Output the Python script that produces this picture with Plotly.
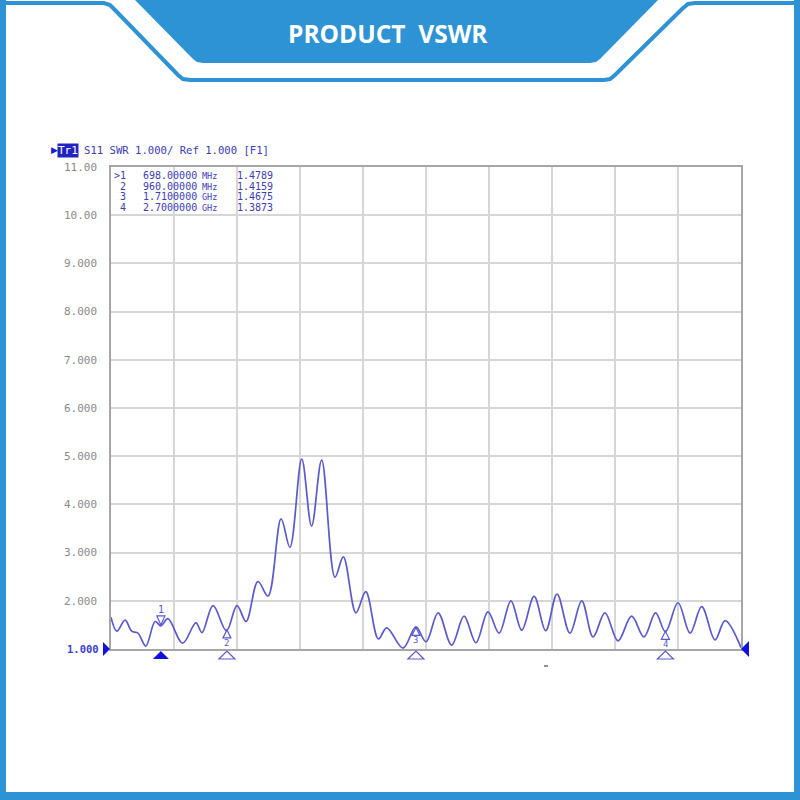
import plotly.graph_objects as go

# ---------------- data ----------------
freq_mhz = [500, 523, 556, 582, 607, 638, 675, 698, 726, 784, 837, 861, 905, 958,
            1000, 1036, 1083, 1123, 1175, 1210, 1257, 1296, 1336, 1389, 1422, 1472,
            1511, 1561, 1594, 1659, 1710, 1750, 1798, 1852, 1901, 1948, 1996, 2040,
            2087, 2130, 2179, 2225, 2270, 2321, 2368, 2413, 2460, 2512, 2566, 2615,
            2661, 2700, 2750, 2798, 2844, 2897, 2937, 3000]
vswr = [1.66, 1.37, 1.60, 1.37, 1.33, 1.06, 1.57, 1.48, 1.63, 1.12, 1.54, 1.34, 1.90, 1.38,
        1.90, 1.57, 2.40, 2.10, 3.70, 3.11, 4.94, 3.55, 4.92, 2.49, 2.91, 1.75,
        2.19, 1.21, 1.44, 1.02, 1.46, 1.15, 1.75, 1.08, 1.68, 1.13, 1.77, 1.33,
        2.00, 1.39, 2.09, 1.38, 2.14, 1.33, 2.00, 1.25, 1.75, 1.17, 1.68, 1.25,
        1.75, 1.36, 1.96, 1.33, 1.88, 1.19, 1.59, 1.03]

marker_ids = ["1", "2", "3", "4"]
marker_freq = [698, 960, 1710, 2700]
marker_vswr = [1.4789, 1.4159, 1.4675, 1.3873]
marker_freq_text = ["698.00000", "960.00000", "1.7100000", "2.7000000"]
marker_unit_text = ["MHz", "MHz", "GHz", "GHz"]
marker_row_prefix = [">1", "2", "3", "4"]

y_tick_vals = [2, 3, 4, 5, 6, 7, 8, 9, 10, 11]
y_tick_text = ["2.000", "3.000", "4.000", "5.000", "6.000", "7.000", "8.000", "9.000", "10.00", "11.00"]

x_start, x_stop, x_step = 500, 3000, 250
y_min, y_max = 1, 11

# ---------------- styles ----------------
W = H = 800
BLUE = "#2E93D5"
TRACE = "#5a5acd"
MTXT = "#3c3cb8"
MONO = "DejaVu Sans Mono"
PLOT_L, PLOT_R, PLOT_T, PLOT_B = 111, 741, 167, 649


def px(x):
    return x / W


def py(y):
    return 1 - y / H


def ppath(points, close=False):
    s = "M " + " L ".join(f"{px(x):.5f},{py(y):.5f}" for x, y in points)
    return s + (" Z" if close else "")


fig = go.Figure()
fig.add_trace(go.Scatter(
    x=freq_mhz, y=vswr, mode="lines",
    line=dict(color=TRACE, width=1.7, shape="spline", smoothing=1.0),
    hoverinfo="skip", showlegend=False))

shapes = []
annotations = []

# --- page border & banner ---
shapes.append(dict(type="line", xref="paper", yref="paper", x0=px(3), x1=px(3), y0=0, y1=1,
                   line=dict(color=BLUE, width=6)))
shapes.append(dict(type="line", xref="paper", yref="paper", x0=px(797), x1=px(797), y0=0, y1=1,
                   line=dict(color=BLUE, width=6)))
shapes.append(dict(type="line", xref="paper", yref="paper", x0=0, x1=1, y0=py(796), y1=py(796),
                   line=dict(color=BLUE, width=8)))
outline = [(0, 3), (104, 3), (110, 5), (115, 10), (178, 75), (183, 79), (190, 80),
           (604, 80), (610, 79), (615, 75), (682, 9), (688, 4), (695, 3), (800, 3)]
shapes.append(dict(type="path", xref="paper", yref="paper", path=ppath(outline),
                   line=dict(color=BLUE, width=4)))
banner = [(135, 0), (658, 0), (600, 59), (596, 62), (590, 63), (203, 63), (197, 62), (193, 59)]
shapes.append(dict(type="path", xref="paper", yref="paper", path=ppath(banner, True),
                   fillcolor=BLUE, line=dict(width=0)))
annotations.append(dict(xref="paper", yref="paper", x=px(388), y=py(33), text="<b>PRODUCT&nbsp; VSWR</b>",
                        showarrow=False, xanchor="center", yanchor="middle",
                        font=dict(family="Open Sans", size=24.5, color="white")))
# small stray mark visible in the reference
shapes.append(dict(type="line", xref="paper", yref="paper", x0=px(544), x1=px(548), y0=py(666), y1=py(666),
                   line=dict(color="#222222", width=1)))

# --- header line ---
annotations.append(dict(xref="paper", yref="paper", x=px(49), y=py(150), text="▶", showarrow=False,
                        xanchor="left", yanchor="middle", font=dict(family="DejaVu Sans", size=9, color="#1a1ad0")))
annotations.append(dict(xref="paper", yref="paper", x=px(57), y=py(150), text="Tr1", showarrow=False,
                        xanchor="left", yanchor="middle", bgcolor="#2222c0", borderpad=0,
                        font=dict(family=MONO, size=11, color="white")))
annotations.append(dict(xref="paper", yref="paper", x=px(82), y=py(150), text="S11 SWR 1.000/ Ref 1.000 [F1]",
                        showarrow=False, xanchor="left", yanchor="middle",
                        font=dict(family=MONO, size=10.6, color=MTXT)))

# --- marker table ---
row_y = [176, 186.5, 197, 207.5]
for i in range(4):
    yy = py(row_y[i])
    annotations.append(dict(xref="paper", yref="paper", x=px(127), y=yy, text=marker_row_prefix[i],
                            showarrow=False, xanchor="right", yanchor="middle", borderpad=0,
                            font=dict(family=MONO, size=10, color=MTXT)))
    annotations.append(dict(xref="paper", yref="paper", x=px(142), y=yy, text=marker_freq_text[i],
                            showarrow=False, xanchor="left", yanchor="middle", borderpad=0,
                            font=dict(family=MONO, size=10, color=MTXT)))
    annotations.append(dict(xref="paper", yref="paper", x=px(201), y=yy, text=marker_unit_text[i],
                            showarrow=False, xanchor="left", yanchor="middle", borderpad=0,
                            font=dict(family=MONO, size=8.5, color=MTXT)))
    annotations.append(dict(xref="paper", yref="paper", x=px(236), y=yy, text=f"{marker_vswr[i]:.4f}",
                            showarrow=False, xanchor="left", yanchor="middle", borderpad=0,
                            font=dict(family=MONO, size=10, color=MTXT)))

# --- "1.000" reference label & pointers ---
annotations.append(dict(xref="paper", yref="y", x=px(101), y=y_min, text="<b>1.000</b>", showarrow=False,
                        xanchor="right", yanchor="middle", font=dict(family=MONO, size=10.5, color="#4040d0")))
shapes.append(dict(type="path", xref="paper", yref="paper", xsizemode="pixel", ysizemode="pixel",
                   xanchor=px(PLOT_L), yanchor=py(PLOT_B), path="M -8,-7 L -8,7 L -1,0 Z",
                   fillcolor="#1010e0", line=dict(width=0)))
shapes.append(dict(type="path", xref="paper", yref="paper", xsizemode="pixel", ysizemode="pixel",
                   xanchor=px(PLOT_R), yanchor=py(PLOT_B), path="M 8,-8 L 8,8 L 0,0 Z",
                   fillcolor="#1010e0", line=dict(width=0)))

# --- markers on trace and on axis ---
for i, (mid, f, v) in enumerate(zip(marker_ids, marker_freq, marker_vswr)):
    if i == 0:
        shapes.append(dict(type="path", xref="x", yref="y", xsizemode="pixel", ysizemode="pixel",
                           xanchor=f, yanchor=v, path="M -4,10 L 4,10 L 0,1 Z",
                           line=dict(color=TRACE, width=1.2)))
        annotations.append(dict(xref="x", yref="y", x=f, y=v, yshift=16, text=mid, showarrow=False,
                                xanchor="center", yanchor="middle",
                                font=dict(family=MONO, size=10, color=TRACE)))
        shapes.append(dict(type="path", xref="x", yref="paper", xsizemode="pixel", ysizemode="pixel",
                           xanchor=f, yanchor=py(PLOT_B), path="M -8,-10 L 8,-10 L 0,-2 Z",
                           fillcolor="#1010e0", line=dict(width=0)))
    else:
        shapes.append(dict(type="path", xref="x", yref="y", xsizemode="pixel", ysizemode="pixel",
                           xanchor=f, yanchor=v, path="M -4,-9 L 4,-9 L 0,-1 Z",
                           line=dict(color=TRACE, width=1.2)))
        annotations.append(dict(xref="x", yref="y", x=f, y=v, yshift=-14, text=mid, showarrow=False,
                                xanchor="center", yanchor="middle",
                                font=dict(family=MONO, size=9, color=TRACE)))
        shapes.append(dict(type="path", xref="x", yref="paper", xsizemode="pixel", ysizemode="pixel",
                           xanchor=f, yanchor=py(PLOT_B), path="M -8,-10 L 8,-10 L 0,-2 Z",
                           line=dict(color=TRACE, width=1.2)))

fig.update_layout(
    width=W, height=H, margin=dict(l=0, r=0, t=0, b=0, autoexpand=False),
    paper_bgcolor="white", plot_bgcolor="white",
    showlegend=False, shapes=shapes, annotations=annotations,
    xaxis=dict(domain=[px(PLOT_L), px(PLOT_R)], range=[x_start, x_stop], tick0=x_start, dtick=x_step,
               showgrid=True, gridcolor="#d6d6d6", gridwidth=1.5, showticklabels=False, ticks="",
               showline=True, linecolor="#a6a6a6", linewidth=1.5, mirror=True, zeroline=False,
               automargin=False, fixedrange=True),
    yaxis=dict(domain=[py(PLOT_B), py(PLOT_T)], range=[y_min, y_max], tickvals=y_tick_vals,
               ticktext=y_tick_text, showgrid=True, gridcolor="#d6d6d6", gridwidth=1.5, ticks="",
               tickfont=dict(family=MONO, size=11, color="#8a8a8a"), ticklabelstandoff=10,
               showline=True, linecolor="#a6a6a6", linewidth=1.5, mirror=True, zeroline=False,
               automargin=False, fixedrange=True),
)

fig.write_html("out.html", config={"displayModeBar": False},
               post_script="document.body.style.margin='0';document.body.style.padding='0';"
                           "document.body.style.overflow='hidden';"
                           "var gdv=document.getElementById('{plot_id}');"
                           "gdv.style.position='absolute';gdv.style.top='0px';gdv.style.left='0px';")
